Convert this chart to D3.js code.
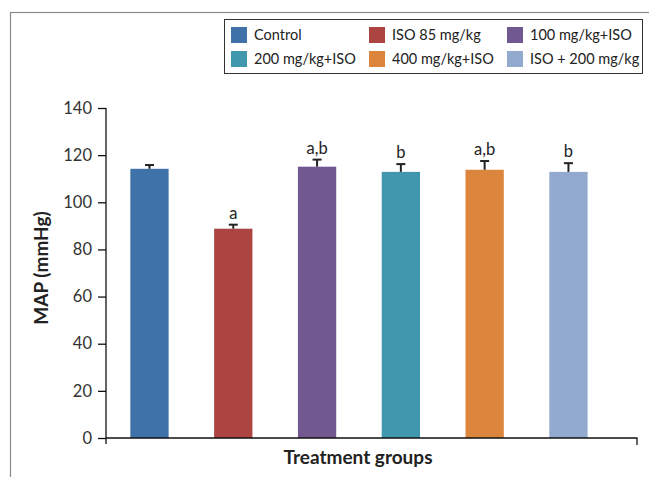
<!DOCTYPE html>
<html>
<head>
<meta charset="utf-8">
<script src="https://cdn.jsdelivr.net/npm/d3@7"></script>
<style>
  body { margin: 0; background: #fff; }
  svg { display: block; font-family: Lato, "Open Sans", sans-serif; }
</style>
</head>
<body>
<div id="chart"></div>
<script>
// chart data
const groups = ["Control", "ISO 85 mg/kg", "100 mg/kg+ISO", "200 mg/kg+ISO", "400 mg/kg+ISO", "ISO + 200 mg/kg"];
const mapValues = [114.2, 88.8, 115.1, 112.9, 113.8, 112.9];
const mapErrors = [1.6, 1.7, 3.0, 3.3, 3.7, 3.7];
const sigLabels = ["", "a", "a,b", "b", "a,b", "b"];
const barColors = ["#3F72A8", "#AC4542", "#725891", "#4198AE", "#DC853D", "#93AACF"];
const yTicks = [0, 20, 40, 60, 80, 100, 120, 140];

const width = 649, height = 477;
const plot = { left: 106, right: 637, top: 108, bottom: 438 };

const svg = d3.select("#chart").append("svg")
    .attr("width", width)
    .attr("height", height);

// outer frame (cropped at right and bottom)
svg.append("rect")
    .attr("x", 10.5).attr("y", 12.5)
    .attr("width", 700).attr("height", 500)
    .attr("fill", "none")
    .attr("stroke", "#8a8a8a")
    .attr("stroke-width", 1.2);

const x = d3.scaleBand()
    .domain(groups)
    .range([plot.left, plot.right])
    .paddingInner(0.543)
    .paddingOuter(0.44)
    .align(0.33);

const y = d3.scaleLinear()
    .domain([0, 140])
    .range([plot.bottom, plot.top]);

// y axis
const yAxis = svg.append("g")
    .attr("transform", `translate(${plot.left},0)`)
    .call(d3.axisLeft(y).tickValues(yTicks).tickSize(8).tickPadding(6));
yAxis.select(".domain").remove();
yAxis.selectAll(".tick line").attr("stroke", "#111").attr("stroke-width", 1.3);
yAxis.selectAll("text")
    .attr("font-size", 16.5)
    .attr("fill", "#333")
    .attr("font-family", "Lato, sans-serif");
yAxis.append("line")
    .attr("x1", 0).attr("x2", 0)
    .attr("y1", y(140)).attr("y2", y(0) + 6)
    .attr("stroke", "#111").attr("stroke-width", 1.3);

// bars
svg.append("g").selectAll("rect")
    .data(groups)
    .join("rect")
    .attr("x", (d) => x(d))
    .attr("y", (d, i) => y(mapValues[i]))
    .attr("width", x.bandwidth())
    .attr("height", (d, i) => y(0) - y(mapValues[i]))
    .attr("fill", (d, i) => barColors[i]);

// x axis line with end tick
const xr = x.range();
svg.append("path")
    .attr("d", `M${xr[0]},${y(0)}H${xr[1]}V${y(0) + 7}`)
    .attr("fill", "none")
    .attr("stroke", "#111")
    .attr("stroke-width", 1.3);

// error bars (upper only)
const err = svg.append("g").attr("stroke", "#222").attr("stroke-width", 2);
groups.forEach((g, i) => {
    const cx = x(g) + x.bandwidth() / 2;
    const top = y(mapValues[i] + mapErrors[i]);
    err.append("line")
        .attr("x1", cx).attr("x2", cx)
        .attr("y1", y(mapValues[i])).attr("y2", top);
    err.append("line")
        .attr("x1", cx - 4.5).attr("x2", cx + 4.5)
        .attr("y1", top).attr("y2", top);
});

// significance letters
svg.append("g").selectAll("text")
    .data(groups)
    .join("text")
    .attr("x", (d) => x(d) + x.bandwidth() / 2)
    .attr("y", (d, i) => y(mapValues[i] + mapErrors[i]) - 6)
    .attr("text-anchor", "middle")
    .attr("font-size", 16.5)
    .attr("fill", "#222")
    .text((d, i) => sigLabels[i]);

// axis titles
svg.append("text")
    .attr("transform", `translate(48,${(plot.top + plot.bottom) / 2 - 5}) rotate(-90)`)
    .attr("text-anchor", "middle")
    .attr("font-size", 19)
    .attr("font-weight", "bold")
    .attr("fill", "#222")
    .text("MAP (mmHg)");

svg.append("text")
    .attr("x", 358)
    .attr("y", 464)
    .attr("text-anchor", "middle")
    .attr("font-size", 19)
    .attr("font-weight", "bold")
    .attr("fill", "#222")
    .text("Treatment groups");

// legend
const legend = svg.append("g");
legend.append("rect")
    .attr("x", 224.5).attr("y", 19.5)
    .attr("width", 418).attr("height", 54)
    .attr("fill", "#fff")
    .attr("stroke", "#333")
    .attr("stroke-width", 1);

const legendCols = [231, 369, 507];
const legendRows = [27, 51];
const items = legend.selectAll("g.item")
    .data(groups)
    .join("g")
    .attr("class", "item")
    .attr("transform", (d, i) => `translate(${legendCols[i % 3]},${legendRows[Math.floor(i / 3)]})`);
items.append("rect")
    .attr("width", 16).attr("height", 16)
    .attr("fill", (d, i) => barColors[i]);
items.append("text")
    .attr("x", 23).attr("y", 13)
    .attr("font-size", 14.5)
    .attr("fill", "#222")
    .text((d) => d);
</script>
</body>
</html>
